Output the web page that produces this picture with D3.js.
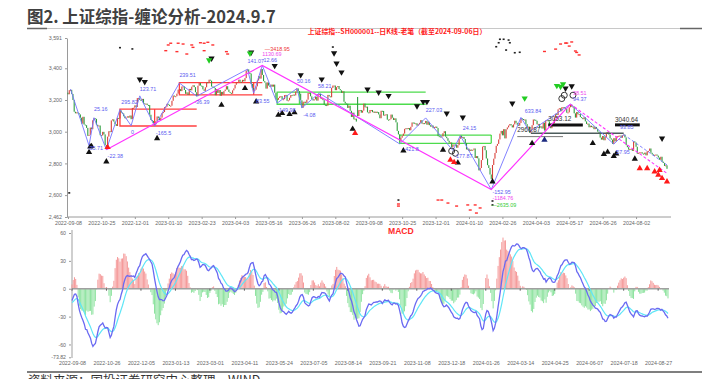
<!DOCTYPE html>
<html><head><meta charset="utf-8">
<script src="https://cdn.jsdelivr.net/npm/d3@7"></script>
<style>
html,body{margin:0;padding:0;background:#fff;}
svg{display:block;font-family:"Liberation Sans",Arial,sans-serif;}
</style></head><body>
<svg id="chart" width="706" height="379"></svg>
<script>
// ---------------- DATA ----------------
const tradingDays = [
 "2022-09|8 9 13 14 15 16 19 20 21 22 23 26 27 28 29 30",
 "2022-10|10 11 12 13 14 17 18 19 20 21 24 25 26 27 28 31",
 "2022-11|1 2 3 4 7 8 9 10 11 14 15 16 17 18 21 22 23 24 25 28 29 30",
 "2022-12|1 2 5 6 7 8 9 12 13 14 15 16 19 20 21 22 23 26 27 28 29 30",
 "2023-01|3 4 5 6 9 10 11 12 13 16 17 18 19 20 30 31",
 "2023-02|1 2 3 6 7 8 9 10 13 14 15 16 17 20 21 22 23 24 27 28",
 "2023-03|1 2 3 6 7 8 9 10 13 14 15 16 17 20 21 22 23 24 27 28 29 30 31",
 "2023-04|3 4 6 7 10 11 12 13 14 17 18 19 20 21 24 25 26 27 28",
 "2023-05|4 5 8 9 10 11 12 15 16 17 18 19 22 23 24 25 26 29 30 31",
 "2023-06|1 2 5 6 7 8 9 12 13 14 15 16 19 20 21 26 27 28 29 30",
 "2023-07|3 4 5 6 7 10 11 12 13 14 17 18 19 20 21 24 25 26 27 28 31",
 "2023-08|1 2 3 4 7 8 9 10 11 14 15 16 17 18 21 22 23 24 25 28 29 30 31",
 "2023-09|1 4 5 6 7 8 11 12 13 14 15 18 19 20 21 22 25 26 27 28",
 "2023-10|9 10 11 12 13 16 17 18 19 20 23 24 25 26 27 30 31",
 "2023-11|1 2 3 6 7 8 9 10 13 14 15 16 17 20 21 22 23 24 27 28 29 30",
 "2023-12|1 4 5 6 7 8 11 12 13 14 15 18 19 20 21 22 25 26 27 28 29",
 "2024-01|2 3 4 5 8 9 10 11 12 15 16 17 18 19 22 23 24 25 26 29 30 31",
 "2024-02|1 2 5 6 7 8 19 20 21 22 23 26 27 28 29",
 "2024-03|1 4 5 6 7 8 11 12 13 14 15 18 19 20 21 22 25 26 27 28 29",
 "2024-04|1 2 3 8 9 10 11 12 15 16 17 18 19 22 23 24 25 26 29 30",
 "2024-05|6 7 8 9 10 13 14 15 16 17 20 21 22 23 24 27 28 29 30 31",
 "2024-06|3 4 5 6 7 11 12 13 14 17 18 19 20 21 24 25 26 27 28",
 "2024-07|1 2 3 4 5 8 9 10 11 12 15 16 17 18 19 22 23 24 25 26 29 30 31",
 "2024-08|1 2 5 6 7 8 9 12 13 14 15 16 19 20 21 22 23 26 27 28 29 30",
 "2024-09|2 3 4 5 6"
];
const closes2022 = [
 3236,3262,3264,3238,3200,3126,3116,3122,3117,3109,3088,3051,3094,3045,3041,3024,
 2974,2980,3026,3016,3072,3085,3081,3044,3035,3039,2978,2976,2999,2983,2916,2893,
 2969,3003,2998,3071,3078,3064,3048,3036,3087,3083,3134,3120,3115,3097,3085,3089,3097,3089,3102,3079,3150,3151,
 3166,3156,3212,3212,3200,3197,3207,3179,3176,3177,3169,3168,3107,3074,3068,3054,3046,3066,3096,3087,3074,3089
];
const closes2023 = [
 3117,3124,3155,3158,3176,3170,3162,3164,3195,3228,3224,3224,3240,3265,3269,3256,
 3285,3286,3263,3239,3248,3232,3270,3261,3284,3293,3281,3249,3224,3290,3307,3291,3288,3267,3258,3280,
 3312,3311,3328,3322,3285,3283,3276,3230,3269,3245,3263,3227,3251,3235,3256,3266,3287,3266,3251,3245,3240,3261,3273,
 3296,3313,3313,3328,3315,3314,3327,3318,3338,3386,3393,3370,3367,3301,3275,3264,3265,3286,3323,
 3350,3335,3395,3358,3319,3310,3272,3311,3291,3284,3297,3284,3297,3246,3205,3201,3213,3222,3224,3205,
 3205,3231,3232,3195,3198,3214,3231,3229,3234,3229,3253,3273,3256,3240,3198,3151,3189,3189,3182,3202,
 3244,3245,3223,3206,3197,3204,3221,3196,3237,3238,3210,3212,3199,3170,3168,3164,3232,3223,3217,3276,3291,
 3291,3262,3281,3288,3269,3261,3245,3255,3189,3178,3176,3150,3164,3132,3093,3120,3078,3082,3064,3099,3136,3137,3120,
 3133,3177,3154,3158,3122,3117,3137,3137,3123,3127,3118,3126,3124,3109,3085,3132,3131,3102,3107,3110,
 3076,3075,3079,3108,3088,3074,3084,3059,3005,2983,2939,2962,2974,2988,3018,3022,3019,
 3023,3009,3031,3058,3057,3052,3053,3038,3047,3056,3073,3051,3054,3052,3068,3044,3062,3041,3032,3039,3022,3030,
 3032,3023,2972,2970,2966,2970,2991,3003,2969,2959,2943,2931,2932,2902,2919,2915,2919,2899,2915,2955,2975
];
const closes2024 = [
 2962,2967,2954,2929,2888,2893,2878,2887,2882,2886,2894,2834,2846,2832,2756,2771,2821,2906,2910,2883,2831,2789,
 2771,2730,2702,2790,2830,2866,2911,2923,2951,2988,3005,2977,3016,2958,3015,
 3027,3039,3048,3040,3027,3046,3069,3056,3044,3038,3055,3085,3080,3077,3077,3048,3026,3032,2993,3011,3041,
 3077,3075,3069,3047,3049,3027,3034,3020,3057,3007,3071,3074,3065,3045,3022,3045,3053,3089,3113,3105,
 3141,3148,3129,3154,3155,3148,3146,3120,3122,3154,3171,3158,3159,3116,3089,3124,3110,3111,3092,3087,
 3079,3091,3065,3049,3051,3028,3038,3029,3033,3016,3030,3018,3000,2998,2963,2950,2973,2946,2967,
 2995,2997,2982,2958,2950,2923,2959,2939,2970,2971,2974,2976,2962,2977,2982,2964,2915,2902,2887,2891,2892,2879,2939,
 2932,2905,2861,2867,2870,2870,2862,2858,2868,2851,2877,2879,2894,2867,2857,2849,2854,2856,2849,2837,2823,2842,
 2811,2803,2784,2788,2766
];
// closes before the chart window (Jul-Sep 2022), only used to warm up the MACD averages
const warmupCloses = [
 3388,3405,3404,3355,3364,3356,3313,3281,3284,3281,3228,3278,3279,3305,3272,3270,3250,3278,3275,3282,3253,
 3259,3186,3163,3189,3227,3236,3247,3230,3281,3276,3277,3277,3293,3278,3258,3277,3276,3215,3246,3236,3240,3228,3202,
 3184,3186,3199,3243,3246
];
const gapOpens = [["2023-08-28",3219],["2024-02-06",2684]];

const priceTicks = [3591,3400,3200,3000,2800,2600,2462];
const priceDateLabels = ["2022-09-08","2022-10-25","2022-12-01","2023-01-10","2023-02-23","2023-04-03","2023-05-16","2023-06-26","2023-08-02","2023-09-08","2023-10-25","2023-12-01","2024-01-10","2024-02-26","2024-04-03","2024-05-17","2024-06-26","2024-08-02"];
const macdTicks = [60,30,0,-30,-60,-73.82];
const macdDateLabels = ["2022-09-08","2022-10-26","2022-12-05","2023-01-13","2023-03-01","2023-04-11","2023-05-24","2023-07-05","2023-08-14","2023-09-21","2023-11-08","2023-12-18","2024-01-26","2024-03-14","2024-04-25","2024-06-07","2024-07-18","2024-08-27"];

// Chan-theory annotations (date, price)
const penPivots = [["2022-09-13",3269],["2022-10-11",2912],["2022-10-17",3088],["2022-10-31",2886],["2022-11-15",3140],["2022-11-28",3038],["2022-12-07",3226],["2022-12-23",3035],["2023-01-30",3307],["2023-02-17",3224],["2023-04-18",3394],["2023-04-25",3243],["2023-05-09",3418],["2023-05-25",3180],["2023-06-16",3273],["2023-06-26",3150],["2023-07-14",3244],["2023-10-23",2923],["2023-11-21",3087],["2023-12-21",2882],["2023-12-29",2975],["2024-02-05",2635],["2024-03-18",3090],["2024-03-27",3000],["2024-05-20",3174],["2024-07-09",2922],["2024-07-19",2982]];
const penDashed = [["2024-07-19",2982],["2024-09-06",2790]];
const segmentPivots = [["2022-10-31",2886],["2023-05-09",3418],["2024-02-05",2635],["2024-05-20",3174]];
const segmentDashed = [["2024-05-20",3174],["2024-09-06",2737]];
const redBoxes = [["2022-11-15","2023-02-17",3143,3036,"2022-12-23"],["2023-01-30","2023-05-09",3309,3232,"2023-04-25"]];
const greenBoxes = [["2023-05-25","2023-11-21",3249,3173,"2023-06-20"],["2023-10-23","2024-02-05",2979,2927,"2024-02-05"]];
const levelLines = [["2024-03-28","2024-07-19",2990,"#4d5c5c",1.6],["2024-03-13","2024-05-10",2969,"#777",1],["2024-04-19","2024-06-03",3043,"#111",3],["2024-07-10","2024-08-07",3043,"#111",3]];
const blueLabels = [["25.16","2022-10-17",3141],["295.82","2022-11-16",3189],["0","2022-11-28",2999],["123.71","2022-12-07",3267],["-165.5","2022-12-26",2994],["-35.71","2022-10-10",2899],["-22.38","2022-11-01",2847],["239.51","2023-01-30",3356],["-36.39","2023-02-15",3187],["141.07","2023-04-18",3448],["12.66","2023-05-10",3450],["83.55","2023-04-27",3195],["-149.98","2023-05-25",3137],["50.16","2023-06-16",3320],["-4.08","2023-06-27",3105],["58.21","2023-07-13",3290],["227.03","2023-11-21",3137],["-421.8","2023-10-26",2889],["24.15","2024-01-03",3021],["-177.87","2023-12-22",2847],["633.84","2024-03-21",3132],["-152.95","2024-02-06",2616],["57.95","2024-07-11",2870],["93.85","2024-07-16",3032],["94.37","2024-05-22",3208]];
const pinkLabels = [["1130.69","2023-05-09",3488],["-1184.76","2024-02-06",2578],["38.51","2024-05-22",3245]];
const redLabels = [["—3418.95","2023-05-11",3524]];
const greenLabels = [["—2635.09","2024-02-05",2540]];
const darkLabels = [["3040.64","2024-07-10",3078],["3053.12","2024-04-19",3084],["2966.87","2024-03-13",3011]];
const upBlack = [["2022-10-11",2870],["2022-10-12",2905],["2022-10-13",2908],["2022-10-31",2811],["2022-12-27",2958],["2023-03-17",3168],["2023-04-14",3274],["2023-04-27",3189],["2023-05-26",3105],["2023-05-31",3116],["2023-06-08",3110],["2023-06-14",3121],["2023-08-22",3017],["2023-10-26",2880],["2023-12-11",2885],["2023-12-27",2804],["2024-02-06",2685],["2024-03-29",2927],["2024-06-14",2927],["2024-06-27",2858],["2024-07-02",2872],["2024-07-09",2845],["2024-07-11",2862],["2024-08-01",2828]];
const upNavy = [["2024-04-16",2948]];
const upRed = [["2022-11-01",2902],["2023-08-24",2990],["2023-12-19",2822],["2023-12-22",2807],["2024-08-07",2769],["2024-08-15",2769],["2024-08-23",2748],["2024-08-29",2758],["2024-08-28",2727],["2024-09-02",2706],["2024-09-06",2685]];
const downBlack = [["2022-12-07",3330],["2022-12-13",3315],["2023-03-07",3463],["2023-04-21",3501],["2023-05-23",3416],["2023-06-21",3358],["2023-07-18",3331],["2023-08-01",3496],["2023-08-03",3431],["2023-08-09",3375],["2023-09-07",3267],["2023-09-20",3248],["2023-10-10",3227],["2023-11-10",3162],["2023-11-17",3189],["2023-11-22",3189],["2023-12-14",3116],["2024-01-03",3091],["2024-03-07",3179],["2024-05-14",3274],["2024-05-21",3288],["2024-09-02",2958]];
const downGreen = [["2023-03-03",3452],["2023-04-20",3494],["2024-03-21",3211],["2024-04-30",3290],["2024-05-08",3285],["2024-05-10",3300]];
const ringMarks = [["2024-05-09",3209],["2024-05-13",3230],["2024-05-22",3230],["2023-12-20",2878],["2023-12-25",2864]];
const redDots = [["2023-01-06",3511],["2023-01-10",3547],["2023-01-12",3558],["2023-01-19",3505],["2023-01-20",3558],["2023-02-02",3553],["2023-02-07",3490],["2023-02-13",3547],["2023-02-14",3532],["2023-02-22",3561],["2023-02-27",3558],["2023-03-02",3564],["2023-03-08",3547],["2023-02-27",3511],["2023-03-23",3505],["2023-03-24",3490],
 ["2024-04-16",3506],["2024-04-29",3521],["2024-05-08",3553],["2024-05-14",3559],["2024-05-15",3559],["2024-05-17",3540],["2024-05-21",3566],["2024-05-24",3509],["2024-05-27",3500],["2024-05-29",3484],
 ["2023-12-05",2569],["2023-12-08",2569],["2023-12-15",2550],["2023-12-26",2531],["2024-01-09",2538],["2024-01-11",2506],["2024-01-17",2538],["2024-01-18",2487],["2024-01-23",2519],["2023-10-20",2544],["2023-10-20",2531]];
const blackDots = [["2022-11-15",3530],["2022-11-29",3522],["2023-07-31",3534],["2024-02-19",3536],["2024-02-21",3561],["2024-02-22",3583],["2024-02-27",3583],["2024-03-04",3578],["2024-03-05",3561],["2024-02-29",3515],["2024-03-11",3498],["2024-03-15",3501],["2023-10-20",2569],["2024-02-06",2563],["2024-02-06",2538],["2022-09-09",2614]];

const titleText = "图2. 上证综指-缠论分析-2024.9.7";
const subTitle = "上证综指--SH000001--日K线-老笔（截至2024-09-06日）";
const sourceText = "资料来源：国投证券研究中心整理，WIND";

// ---------------- BUILD ----------------
const closes = [...closes2022, ...closes2023, ...closes2024];
const dates = [];
tradingDays.forEach(s => { const [ym, ds] = s.split("|"); ds.trim().split(/\s+/).forEach(d => dates.push(ym + "-" + d.padStart(2, "0"))); });
const idxOf = new Map(dates.map((d, i) => [d, i]));
const ix = d => idxOf.has(d) ? idxOf.get(d) : Math.min(dates.length - 1, d3.bisectLeft(dates, d));
const gapMap = new Map(gapOpens);
const bars = closes.map((c, i) => {
  const o = gapMap.has(dates[i]) ? gapMap.get(dates[i]) : (i === 0 ? warmupCloses[warmupCloses.length - 1] : closes[i - 1]);
  return {i, o, c};
});

// MACD (12,26,9) from closes
let e12 = warmupCloses[0], e26 = warmupCloses[0], dea = 0;
const macd = [];
[...warmupCloses, ...closes].forEach((c, k) => {
  e12 += (c - e12) * 2 / 13; e26 += (c - e26) * 2 / 27;
  const dif = e12 - e26; dea += (dif - dea) * 2 / 10;
  if (k >= warmupCloses.length) macd.push({i: k - warmupCloses.length, dif, dea, hist: 2 * (dif - dea)});
});

const svg = d3.select("#chart");
const N = dates.length;

// title
svg.append("text").attr("x", 27).attr("y", 23).text(titleText)
  .attr("font-family", "'Noto Sans CJK SC',sans-serif").attr("font-size", 16.5).attr("font-weight", 700).attr("fill", "#404040");
svg.append("line").attr("x1", 27).attr("x2", 702).attr("y1", 28.5).attr("y2", 28.5).attr("stroke", "#c8c8c8").attr("stroke-width", 1.2);
svg.append("line").attr("x1", 27).attr("x2", 47).attr("y1", 28.5).attr("y2", 28.5).attr("stroke", "#666").attr("stroke-width", 1.5);
svg.append("line").attr("x1", 680).attr("x2", 702).attr("y1", 28.5).attr("y2", 28.5).attr("stroke", "#666").attr("stroke-width", 1.5);

// ---------- upper chart ----------
const x = d3.scaleLinear().domain([0, N - 1]).range([68, 667]);
const y = d3.scaleLinear().domain([2462, 3591]).range([217, 38]);
const g = svg.append("g");

const yAx = g.append("g").attr("transform", "translate(67,0)")
  .call(d3.axisLeft(y).tickValues(priceTicks).tickFormat(d3.format(",")).tickSize(2).tickSizeOuter(0));
const xAx = g.append("g").attr("transform", "translate(0,217)")
  .call(d3.axisBottom(x).tickValues(priceDateLabels.map(ix)).tickFormat(i => dates[i]).tickSize(2).tickSizeOuter(0));
xAx.select(".domain").attr("d", "M67,0H671");
[yAx, xAx].forEach(a => { a.select(".domain").attr("stroke", "#9a9a9a"); a.selectAll(".tick line").attr("stroke", "#9a9a9a");
  a.selectAll("text").attr("fill", "#666").attr("font-size", 5.3).attr("font-family", "'Liberation Sans',Arial,sans-serif"); });
xAx.selectAll("text").attr("dy", "0.6em");

svg.append("text").attr("x", 397).attr("y", 34).attr("text-anchor", "middle").text(subTitle)
  .attr("font-family", "'Noto Sans CJK SC',sans-serif").attr("font-size", 6.9).attr("font-weight", 700).attr("fill", "#ff1a1a");

// boxes
function drawBox(b, col) {
  const [f, t, top, bot, wall] = b;
  const x0 = x(ix(f)), x1 = x(ix(t));
  g.append("path").attr("d", `M${x1},${y(top)}H${x0}V${y(bot)}H${x1}`).attr("fill", "none").attr("stroke", col).attr("stroke-width", 1.3);
  g.append("line").attr("x1", x(ix(wall))).attr("x2", x(ix(wall))).attr("y1", y(top)).attr("y2", y(bot)).attr("stroke", col).attr("stroke-width", 1.3);
}
redBoxes.forEach(b => drawBox(b, "#ff4040"));
greenBoxes.forEach(b => drawBox(b, "#4ddc4d"));

// candles
g.append("g").selectAll("rect").data(bars).join("rect")
  .attr("x", d => x(d.i) - 0.55).attr("width", 1.1)
  .attr("y", d => y(Math.max(d.o, d.c)))
  .attr("height", d => Math.max(1, Math.abs(y(d.o) - y(d.c))))
  .attr("fill", d => d.c >= d.o ? "#d9403a" : "#2e9e3e");

// level lines
levelLines.forEach(([f, t, p, col, w]) => g.append("line").attr("x1", x(ix(f))).attr("x2", x(ix(t))).attr("y1", y(p)).attr("y2", y(p)).attr("stroke", col).attr("stroke-width", w));

// pens & segments
const ln = d3.line().x(d => x(ix(d[0]))).y(d => y(d[1]));
g.append("path").attr("d", ln(penPivots)).attr("fill", "none").attr("stroke", "#7474ff").attr("stroke-width", 0.9);
g.append("path").attr("d", ln(penDashed)).attr("fill", "none").attr("stroke", "#7474ff").attr("stroke-width", 0.9).attr("stroke-dasharray", "3,2");
g.append("path").attr("d", ln(segmentPivots)).attr("fill", "none").attr("stroke", "#ff33ff").attr("stroke-width", 1.2);
g.append("path").attr("d", ln(segmentDashed)).attr("fill", "none").attr("stroke", "#ff33ff").attr("stroke-width", 1.1).attr("stroke-dasharray", "3,2");

// dots
g.append("g").selectAll("rect").data(redDots).join("rect")
  .attr("x", d => x(ix(d[0])) - 1.5).attr("y", d => y(d[1]) - 0.7).attr("width", 3).attr("height", 1.4).attr("fill", "#ff3030");
g.append("g").selectAll("rect").data(blackDots).join("rect")
  .attr("x", d => x(ix(d[0])) - 1).attr("y", d => y(d[1]) - 0.8).attr("width", 2).attr("height", 1.6).attr("fill", "#222");

// triangles
const tri = d3.symbol(d3.symbolTriangle, 17);
function marks(data, col, rot) {
  g.append("g").selectAll("path").data(data).join("path")
    .attr("d", tri())
    .attr("transform", d => `translate(${x(ix(d[0]))},${y(d[1])}) rotate(${rot})`).attr("fill", col);
}
marks(upBlack, "#111", 0);
marks(upNavy, "#1c2a80", 0);
marks(upRed, "#ff1a1a", 0);
marks(downBlack, "#111", 180);
marks(downGreen, "#22cc22", 180);
g.append("g").selectAll("circle").data(ringMarks).join("circle")
  .attr("cx", d => x(ix(d[0]))).attr("cy", d => y(d[1])).attr("r", 3).attr("fill", "none").attr("stroke", "#222").attr("stroke-width", 0.9);

// labels
function labels(data, col, fs) {
  g.append("g").selectAll("text").data(data).join("text")
    .attr("x", d => x(ix(d[1]))).attr("y", d => y(d[2])).attr("dy", "0.35em").text(d => d[0])
    .attr("font-size", fs).attr("fill", col);
}
labels(blueLabels, "#5b5bf0", 5.4);
labels(pinkLabels, "#ee44ee", 5.4);
labels(redLabels, "#ee3333", 5.4);
labels(greenLabels, "#33cc33", 5.4);
labels(darkLabels, "#333", 6.4);

// ---------- MACD ----------
const xm = d3.scaleLinear().domain([0, N - 1]).range([72, 668]);
const ym = d3.scaleLinear().domain([-73.82, 60]).range([357.3, 233]);
const m = svg.append("g");
m.append("line").attr("x1", 72).attr("x2", 72).attr("y1", 230).attr("y2", 358).attr("stroke", "#cfcfcf").attr("stroke-width", 2);
const ymAx = m.append("g").attr("transform", "translate(71,0)")
  .call(d3.axisLeft(ym).tickValues(macdTicks).tickFormat(d => String(d)).tickSize(2).tickSizeOuter(0));
ymAx.select(".domain").remove();
ymAx.selectAll(".tick line").attr("stroke", "#999");
ymAx.selectAll("text").attr("fill", "#666").attr("font-size", 5.2);
const xmAx = m.append("g").attr("transform", "translate(0,358)")
  .call(d3.axisBottom(xm).tickValues(macdDateLabels.map(ix)).tickFormat(i => dates[i]).tickSize(0).tickPadding(4));
xmAx.select(".domain").remove();
xmAx.selectAll("text").attr("fill", "#666").attr("font-size", 5.3).attr("dy", "0.6em");

m.append("g").selectAll("rect").data(macd).join("rect")
  .attr("x", d => xm(d.i) - 0.5).attr("width", 1)
  .attr("y", d => d.hist >= 0 ? ym(d.hist) : ym(0))
  .attr("height", d => Math.abs(ym(d.hist) - ym(0)))
  .attr("fill", d => d.hist >= 0 ? "#f59a9a" : "#8fe3a0");
m.append("line").attr("x1", 72).attr("x2", 669).attr("y1", ym(0)).attr("y2", ym(0)).attr("stroke", "#a0a0a0").attr("stroke-width", 1.4);
m.append("g").selectAll("line").data(macdDateLabels.map(ix)).join("line")
  .attr("x1", d => xm(d)).attr("x2", d => xm(d)).attr("y1", ym(0)).attr("y2", ym(0) + 2).attr("stroke", "#444").attr("stroke-width", 0.8);
m.append("path").datum(macd).attr("d", d3.line().x(d => xm(d.i)).y(d => ym(d.dea)))
  .attr("fill", "none").attr("stroke", "#5fe6f7").attr("stroke-width", 1.2);
m.append("path").datum(macd).attr("d", d3.line().x(d => xm(d.i)).y(d => ym(d.dif)))
  .attr("fill", "none").attr("stroke", "#6a6af2").attr("stroke-width", 1.3);
svg.append("text").attr("x", 388).attr("y", 234).text("MACD").attr("font-size", 8.6).attr("font-weight", 700).attr("fill", "#ff2a2a");

// footer
svg.append("line").attr("x1", 27).attr("x2", 702).attr("y1", 372).attr("y2", 372).attr("stroke", "#555").attr("stroke-width", 1.6);
svg.append("text").attr("x", 28).attr("y", 384.5).text(sourceText)
  .attr("font-family", "'Noto Sans CJK SC',sans-serif").attr("font-size", 12.5).attr("fill", "#333");
</script>
</body></html>
